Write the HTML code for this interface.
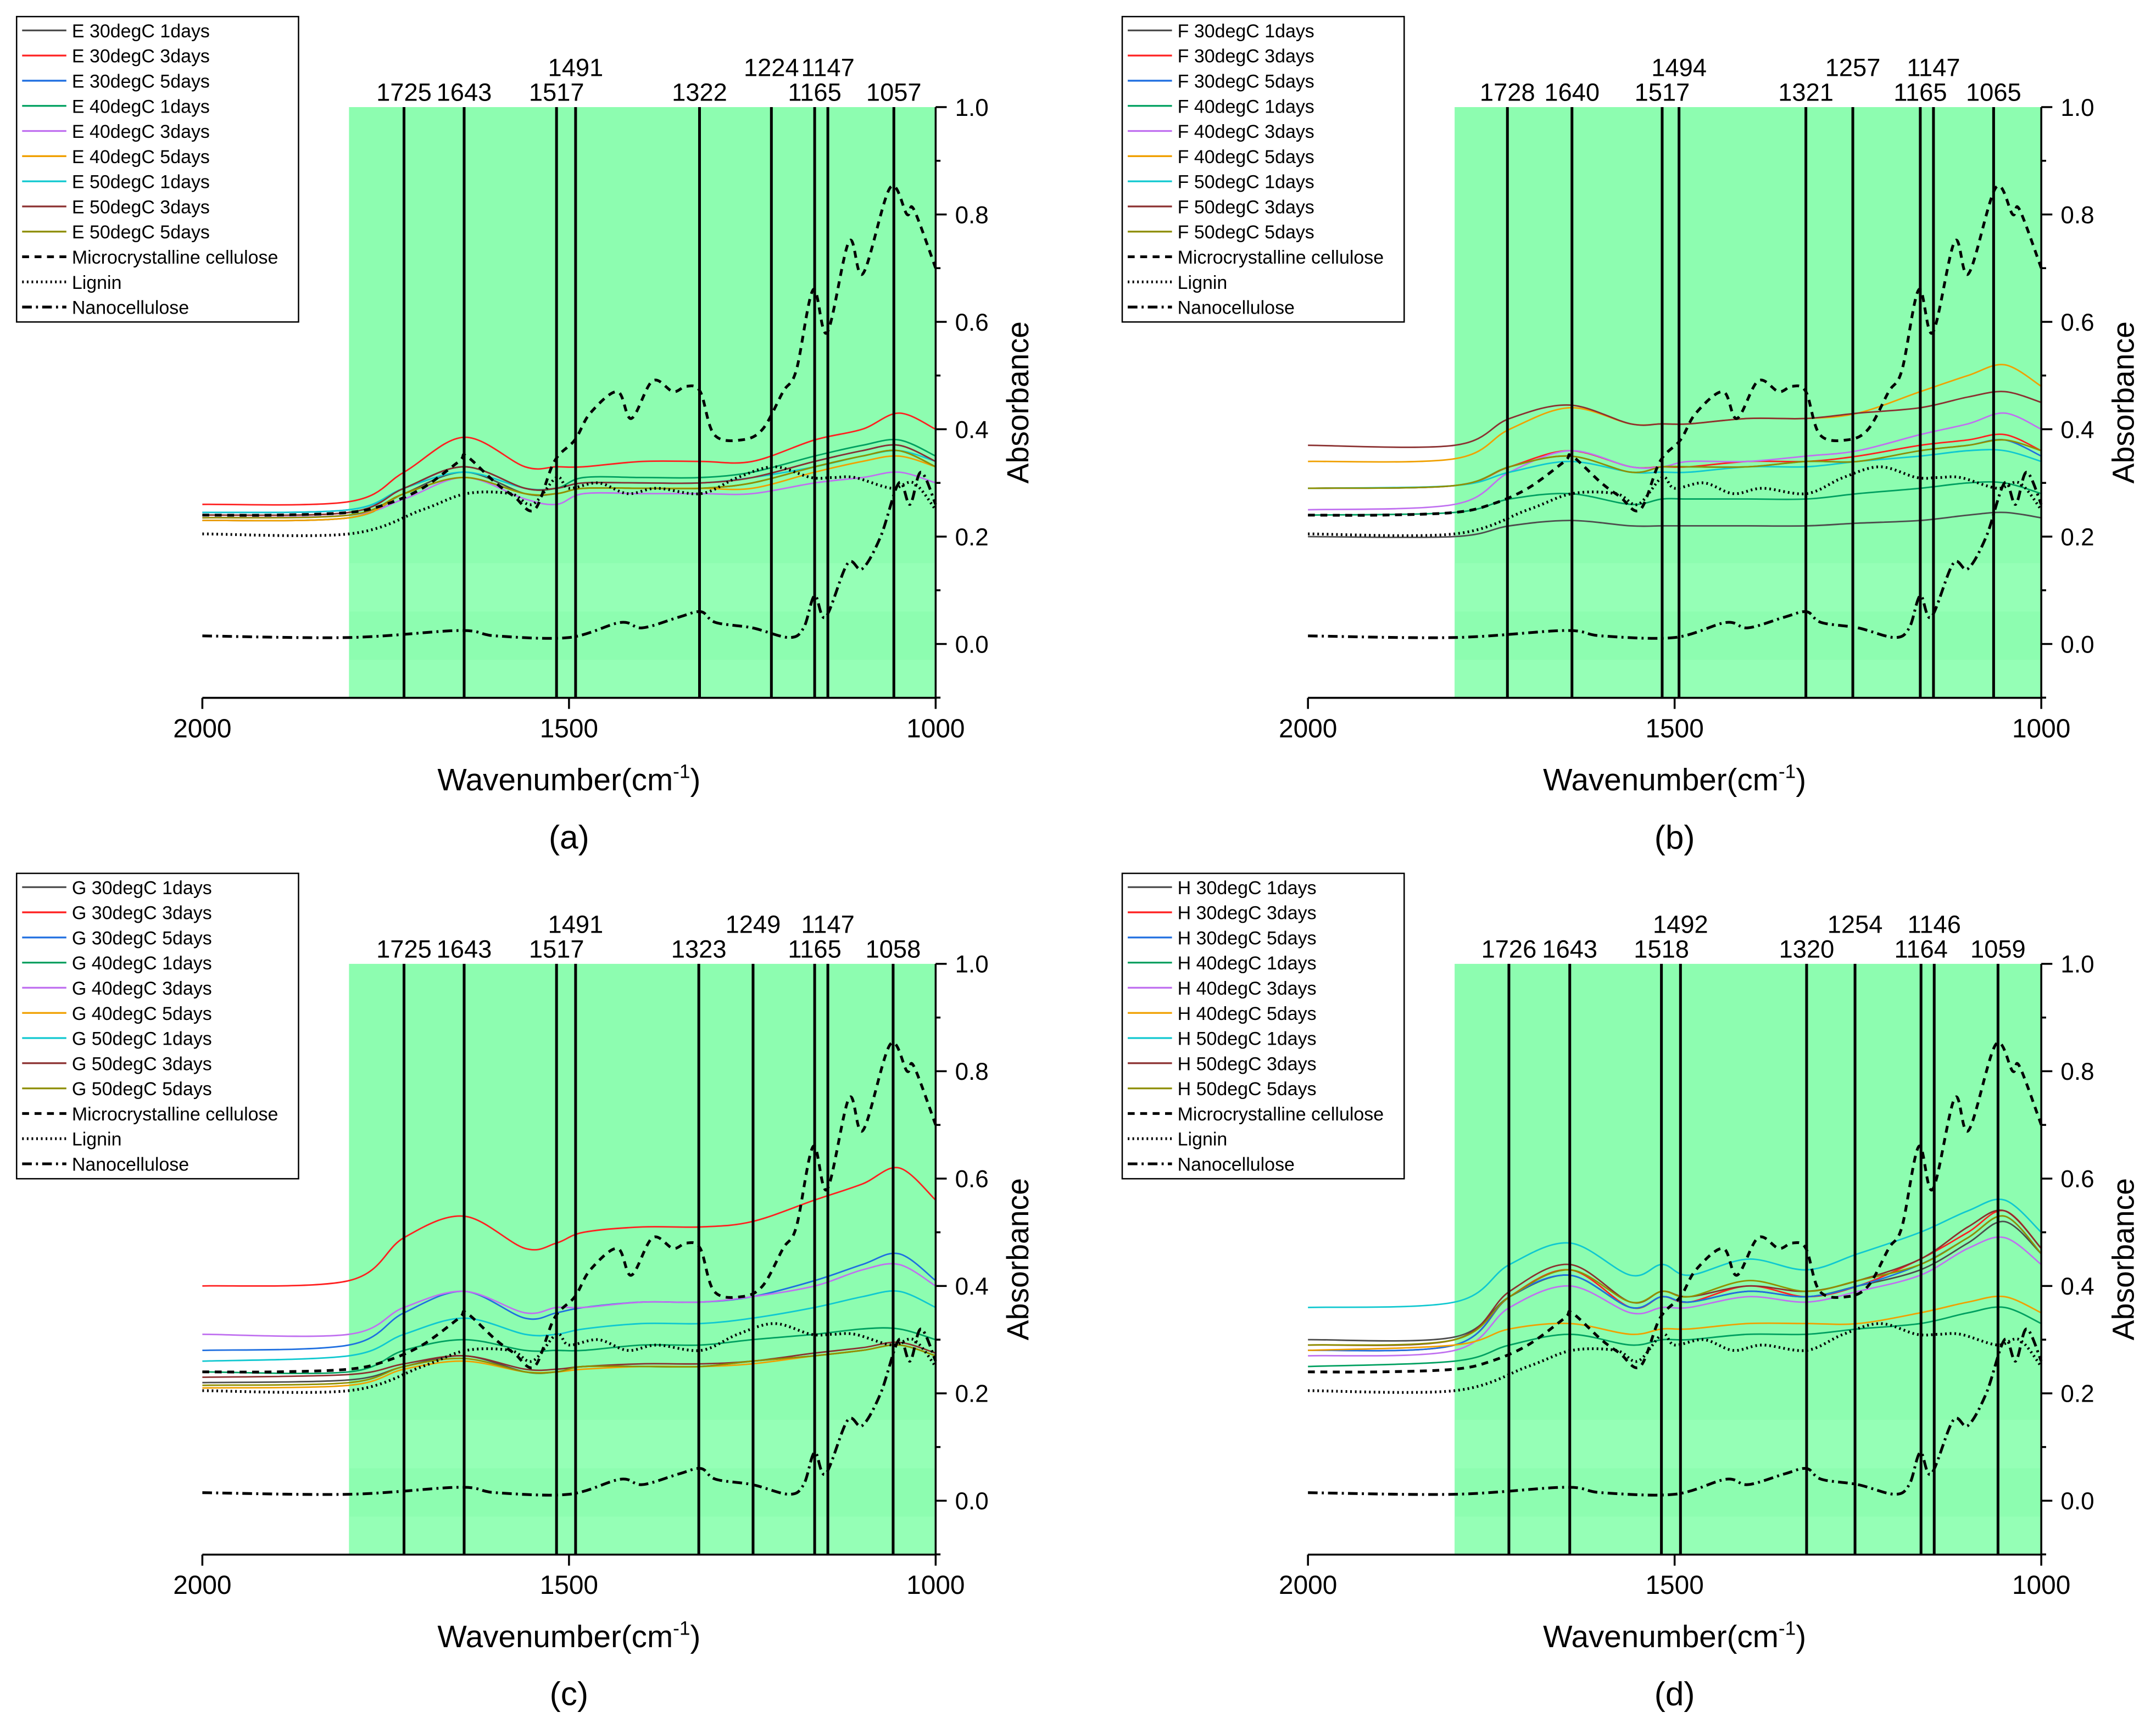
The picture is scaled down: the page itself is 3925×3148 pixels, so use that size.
<!DOCTYPE html>
<html><head><meta charset="utf-8"><style>html,body{margin:0;padding:0;background:#fff}svg{display:block}text{font-family:"Liberation Sans",Arial,sans-serif;fill:#000}</style></head>
<body>
<svg id="fig" xmlns="http://www.w3.org/2000/svg" width="3925" height="3148" viewBox="0 0 1560 1251.2"></svg>
<script>
const wn = [2000,1800,1725,1643,1560,1517,1480,1400,1320,1250,1165,1100,1050,1000];
const colors = ["#4d4d4d","#ff2020","#1f6fe0","#00a060","#c070f0","#f0a000","#10c8d0","#8b3030","#909000"];
const seriesLabels = ["30degC 1days","30degC 3days","30degC 5days","40degC 1days","40degC 3days","40degC 5days","50degC 1days","50degC 3days","50degC 5days"];
const yTicks = [0.0,0.2,0.4,0.6,0.8,1.0];
const xTicks = [2000,1500,1000];
const mccWn = [2000,1900,1800,1750,1700,1650,1640,1600,1575,1547,1520,1492,1471,1434,1415,1386,1358,1340,1321,1302,1265,1236,1208,1190,1167,1148,1118,1099,1062,1039,1030,1000];
const mccVal = [0.24,0.24,0.245,0.26,0.29,0.34,0.35,0.30,0.275,0.25,0.34,0.38,0.43,0.47,0.42,0.49,0.47,0.48,0.47,0.39,0.38,0.40,0.47,0.51,0.66,0.58,0.75,0.69,0.85,0.80,0.81,0.70];
const ligWn = [2000,1800,1700,1640,1580,1550,1517,1500,1460,1420,1380,1320,1270,1220,1170,1140,1110,1060,1030,1000];
const ligVal = [0.205,0.205,0.25,0.28,0.28,0.26,0.31,0.29,0.30,0.28,0.29,0.28,0.31,0.33,0.31,0.31,0.31,0.29,0.30,0.25];
const nanoWn = [2000,1800,1650,1600,1500,1430,1400,1350,1320,1300,1250,1200,1180,1165,1150,1120,1100,1075,1050,1035,1020,1000];
const nanoVal = [0.015,0.012,0.025,0.015,0.012,0.04,0.03,0.05,0.06,0.04,0.03,0.012,0.03,0.09,0.05,0.15,0.14,0.2,0.3,0.26,0.32,0.26];
const valsA = [
 [0.23,0.235,0.28,0.32,0.28,0.28,0.29,0.29,0.29,0.30,0.33,0.35,0.36,0.33],
 [0.26,0.265,0.32,0.385,0.33,0.33,0.33,0.34,0.34,0.34,0.38,0.40,0.43,0.40],
 [0.245,0.25,0.29,0.33,0.29,0.29,0.30,0.30,0.30,0.31,0.34,0.36,0.37,0.34],
 [0.24,0.245,0.29,0.33,0.29,0.29,0.31,0.31,0.31,0.32,0.35,0.37,0.38,0.35],
 [0.235,0.24,0.27,0.31,0.27,0.26,0.28,0.28,0.28,0.28,0.30,0.31,0.32,0.30],
 [0.23,0.235,0.28,0.31,0.28,0.28,0.29,0.29,0.29,0.29,0.32,0.34,0.35,0.33],
 [0.245,0.25,0.29,0.32,0.29,0.29,0.30,0.30,0.30,0.31,0.33,0.35,0.36,0.34],
 [0.24,0.245,0.29,0.33,0.29,0.29,0.30,0.30,0.30,0.31,0.34,0.36,0.37,0.34],
 [0.235,0.24,0.28,0.31,0.28,0.28,0.29,0.29,0.29,0.30,0.33,0.35,0.36,0.33]];
const valsB = [
 [0.20,0.20,0.22,0.23,0.22,0.22,0.22,0.22,0.22,0.225,0.23,0.24,0.245,0.235],
 [0.29,0.295,0.33,0.36,0.33,0.33,0.33,0.34,0.34,0.35,0.37,0.38,0.39,0.36],
 [0.29,0.295,0.33,0.35,0.32,0.33,0.33,0.33,0.34,0.34,0.36,0.37,0.38,0.35],
 [0.24,0.245,0.27,0.28,0.26,0.27,0.27,0.27,0.27,0.28,0.29,0.30,0.30,0.28],
 [0.25,0.26,0.32,0.36,0.33,0.33,0.34,0.34,0.35,0.36,0.39,0.41,0.43,0.40],
 [0.34,0.345,0.40,0.44,0.41,0.41,0.41,0.42,0.42,0.43,0.47,0.50,0.52,0.48],
 [0.29,0.295,0.32,0.34,0.32,0.32,0.32,0.33,0.33,0.34,0.35,0.36,0.36,0.34],
 [0.37,0.37,0.42,0.445,0.41,0.41,0.41,0.42,0.42,0.43,0.44,0.46,0.47,0.45],
 [0.29,0.295,0.33,0.35,0.32,0.33,0.33,0.33,0.34,0.34,0.36,0.37,0.38,0.36]];
const valsC = [
 [0.22,0.225,0.25,0.27,0.24,0.24,0.25,0.25,0.25,0.26,0.27,0.28,0.29,0.27],
 [0.40,0.41,0.49,0.53,0.47,0.48,0.50,0.51,0.51,0.52,0.56,0.59,0.62,0.56],
 [0.28,0.29,0.35,0.39,0.34,0.35,0.36,0.37,0.37,0.38,0.41,0.44,0.46,0.41],
 [0.24,0.24,0.28,0.30,0.28,0.28,0.28,0.29,0.29,0.30,0.31,0.32,0.32,0.30],
 [0.31,0.31,0.36,0.39,0.35,0.36,0.36,0.37,0.37,0.38,0.40,0.43,0.44,0.40],
 [0.21,0.215,0.245,0.26,0.24,0.24,0.245,0.25,0.25,0.255,0.27,0.28,0.29,0.27],
 [0.26,0.27,0.31,0.34,0.31,0.31,0.32,0.33,0.33,0.34,0.36,0.38,0.39,0.36],
 [0.23,0.235,0.255,0.27,0.245,0.245,0.25,0.255,0.255,0.26,0.275,0.285,0.295,0.275],
 [0.215,0.22,0.25,0.265,0.24,0.24,0.25,0.25,0.25,0.26,0.27,0.28,0.29,0.27]];
const valsD = [
 [0.30,0.305,0.38,0.42,0.36,0.38,0.37,0.39,0.38,0.40,0.43,0.48,0.52,0.46],
 [0.28,0.29,0.38,0.43,0.36,0.38,0.37,0.40,0.38,0.40,0.45,0.50,0.54,0.47],
 [0.28,0.29,0.38,0.42,0.36,0.38,0.37,0.39,0.38,0.40,0.44,0.49,0.53,0.46],
 [0.25,0.26,0.29,0.31,0.29,0.30,0.30,0.31,0.31,0.32,0.33,0.35,0.36,0.33],
 [0.27,0.28,0.36,0.40,0.35,0.36,0.36,0.38,0.37,0.39,0.42,0.47,0.49,0.44],
 [0.28,0.29,0.32,0.33,0.31,0.32,0.32,0.33,0.33,0.33,0.35,0.37,0.38,0.35],
 [0.36,0.37,0.44,0.48,0.42,0.44,0.42,0.45,0.43,0.46,0.50,0.54,0.56,0.50],
 [0.29,0.30,0.39,0.44,0.37,0.39,0.38,0.40,0.39,0.41,0.45,0.51,0.54,0.47],
 [0.29,0.30,0.38,0.43,0.37,0.39,0.38,0.41,0.39,0.41,0.44,0.49,0.53,0.46]];
const peaksA = [1725,1643,1517,1491,1322,1224,1165,1147,1057];
const peaksB = [1728,1640,1517,1494,1321,1257,1165,1147,1065];
const peaksC = [1725,1643,1517,1491,1323,1249,1165,1147,1058];
const peaksD = [1726,1643,1518,1492,1320,1254,1164,1146,1059];
const highA = [0,0,0,1,0,1,0,1,0];

const NS="http://www.w3.org/2000/svg";
const svg=document.getElementById('fig');
function mk(tag,attrs,parent){const e=document.createElementNS(NS,tag);for(const k in attrs)e.setAttribute(k,attrs[k]);(parent||svg).appendChild(e);return e;}
function smooth(pts){let d="M"+pts[0][0].toFixed(2)+","+pts[0][1].toFixed(2);for(let i=0;i<pts.length-1;i++){const p0=pts[Math.max(0,i-1)],p1=pts[i],p2=pts[i+1],p3=pts[Math.min(pts.length-1,i+2)];const c1x=p1[0]+(p2[0]-p0[0])/6,c1y=p1[1]+(p2[1]-p0[1])/6,c2x=p2[0]-(p3[0]-p1[0])/6,c2y=p2[1]-(p3[1]-p1[1])/6;d+=" C"+c1x.toFixed(2)+","+c1y.toFixed(2)+" "+c2x.toFixed(2)+","+c2y.toFixed(2)+" "+p2[0].toFixed(2)+","+p2[1].toFixed(2);}return d;}

function panel(ox,oy,letter,vals,peaks){
  const L=146.4+ox,R=677+ox,T=77.5+oy,B=505+oy;
  const xs=w=>L+(2000-w)/1000*(R-L);
  const ys=v=>(466+oy)-v*388.5;
  const g=mk('g',{});
  
  
  const bg=mk('rect',{x:xs(1800),y:T,width:R-xs(1800),height:B-T,fill:'#8dfdb0'},g);
  
  
  [[T+330,T+365],[T+400,B]].forEach(b=>{const r=mk('rect',{x:xs(1800),y:b[0],width:R-xs(1800),height:b[1]-b[0],fill:'#95ffb6'},g);});
  vals.forEach((row,i)=>{const p=mk('path',{d:smooth(row.map((v,j)=>[xs(wn[j]),ys(v)])),fill:'none',stroke:colors[i],'stroke-width':1.1},g);
    
    });
  const refs=[[mccWn,mccVal,'5,4','mcc-line'],[ligWn,ligVal,'1.2,2.2','lignin-line'],[nanoWn,nanoVal,'7,3,1.5,3','nanocellulose-line']];
  refs.forEach(r=>{const p=mk('path',{d:smooth(r[0].map((w,j)=>[xs(w),ys(r[1][j])])),fill:'none',stroke:'#000','stroke-width':2,'stroke-dasharray':r[2]},g);
    
    });
  peaks.forEach((pk,i)=>{const l=mk('line',{x1:xs(pk),x2:xs(pk),y1:T,y2:B,stroke:'#000','stroke-width':2},g);
    
    
    const t=mk('text',{x:xs(pk),y:highA[i]?T-22.5:T-4.5,'text-anchor':'middle','font-size':18},g);t.textContent=pk;
    
    });
  const ax=mk('path',{d:`M${L},${B}H${R}V${T}`,fill:'none',stroke:'#000','stroke-width':1.4},g);
  
  
  xTicks.forEach(w=>{mk('line',{x1:xs(w),x2:xs(w),y1:B,y2:B+8,stroke:'#000','stroke-width':1.4},g);
    const t=mk('text',{x:xs(w),y:B+28.5,'text-anchor':'middle','font-size':19},g);t.textContent=w;
    
    });
  for(let k=-1;k<=10;k++){const v=k/10;mk('line',{x1:R,x2:R+(k%2===0?8:3.5),y1:ys(v),y2:ys(v),stroke:'#000','stroke-width':1.4},g);}
  yTicks.forEach(v=>{const t=mk('text',{x:R+14,y:ys(v)+6.3,'font-size':17.5},g);t.textContent=v.toFixed(1);
    
    });
  const yt=mk('text',{x:0,y:0,transform:`translate(${R+67},${(T+B)/2}) rotate(-90)`,'text-anchor':'middle','font-size':22},g);yt.textContent='Absorbance';
  
  
  const xt=mk('text',{x:(L+R)/2,y:B+67,'text-anchor':'middle','font-size':22.5},g);
  xt.innerHTML='Wavenumber(cm<tspan dy="-9" font-size="14">-1</tspan><tspan dy="9">)</tspan>';
  
  
  const pl=mk('text',{x:(L+R)/2,y:B+109,'text-anchor':'middle','font-size':24},g);pl.textContent='('+letter+')';
  
  
  const lx=12+ox,ly=12+oy;
  const lg=mk('g',{},g);
  
  
  mk('rect',{x:lx,y:ly,width:204,height:221,fill:'#fff',stroke:'#000','stroke-width':1},lg);
  const pref={a:'E',b:'F',c:'G',d:'H'}[letter];
  const names=seriesLabels.map(s=>pref+' '+s).concat(['Microcrystalline cellulose','Lignin','Nanocellulose']);
  names.forEach((n,i)=>{const yy=ly+10+i*18.2;
    const st=i<9?{stroke:colors[i],'stroke-width':1.3}:{stroke:'#000','stroke-width':2,'stroke-dasharray':refs[i-9][2]};
    mk('line',Object.assign({x1:lx+4,x2:lx+36,y1:yy,y2:yy},st),lg);
    const t=mk('text',{x:lx+40,y:yy+5,'font-size':13.5},lg);t.textContent=n;
    
    });
}
panel(0,0,'a',valsA,peaksA);
panel(800,0,'b',valsB,peaksB);
panel(0,620,'c',valsC,peaksC);
panel(800,620,'d',valsD,peaksD);
</script>
</body></html>
